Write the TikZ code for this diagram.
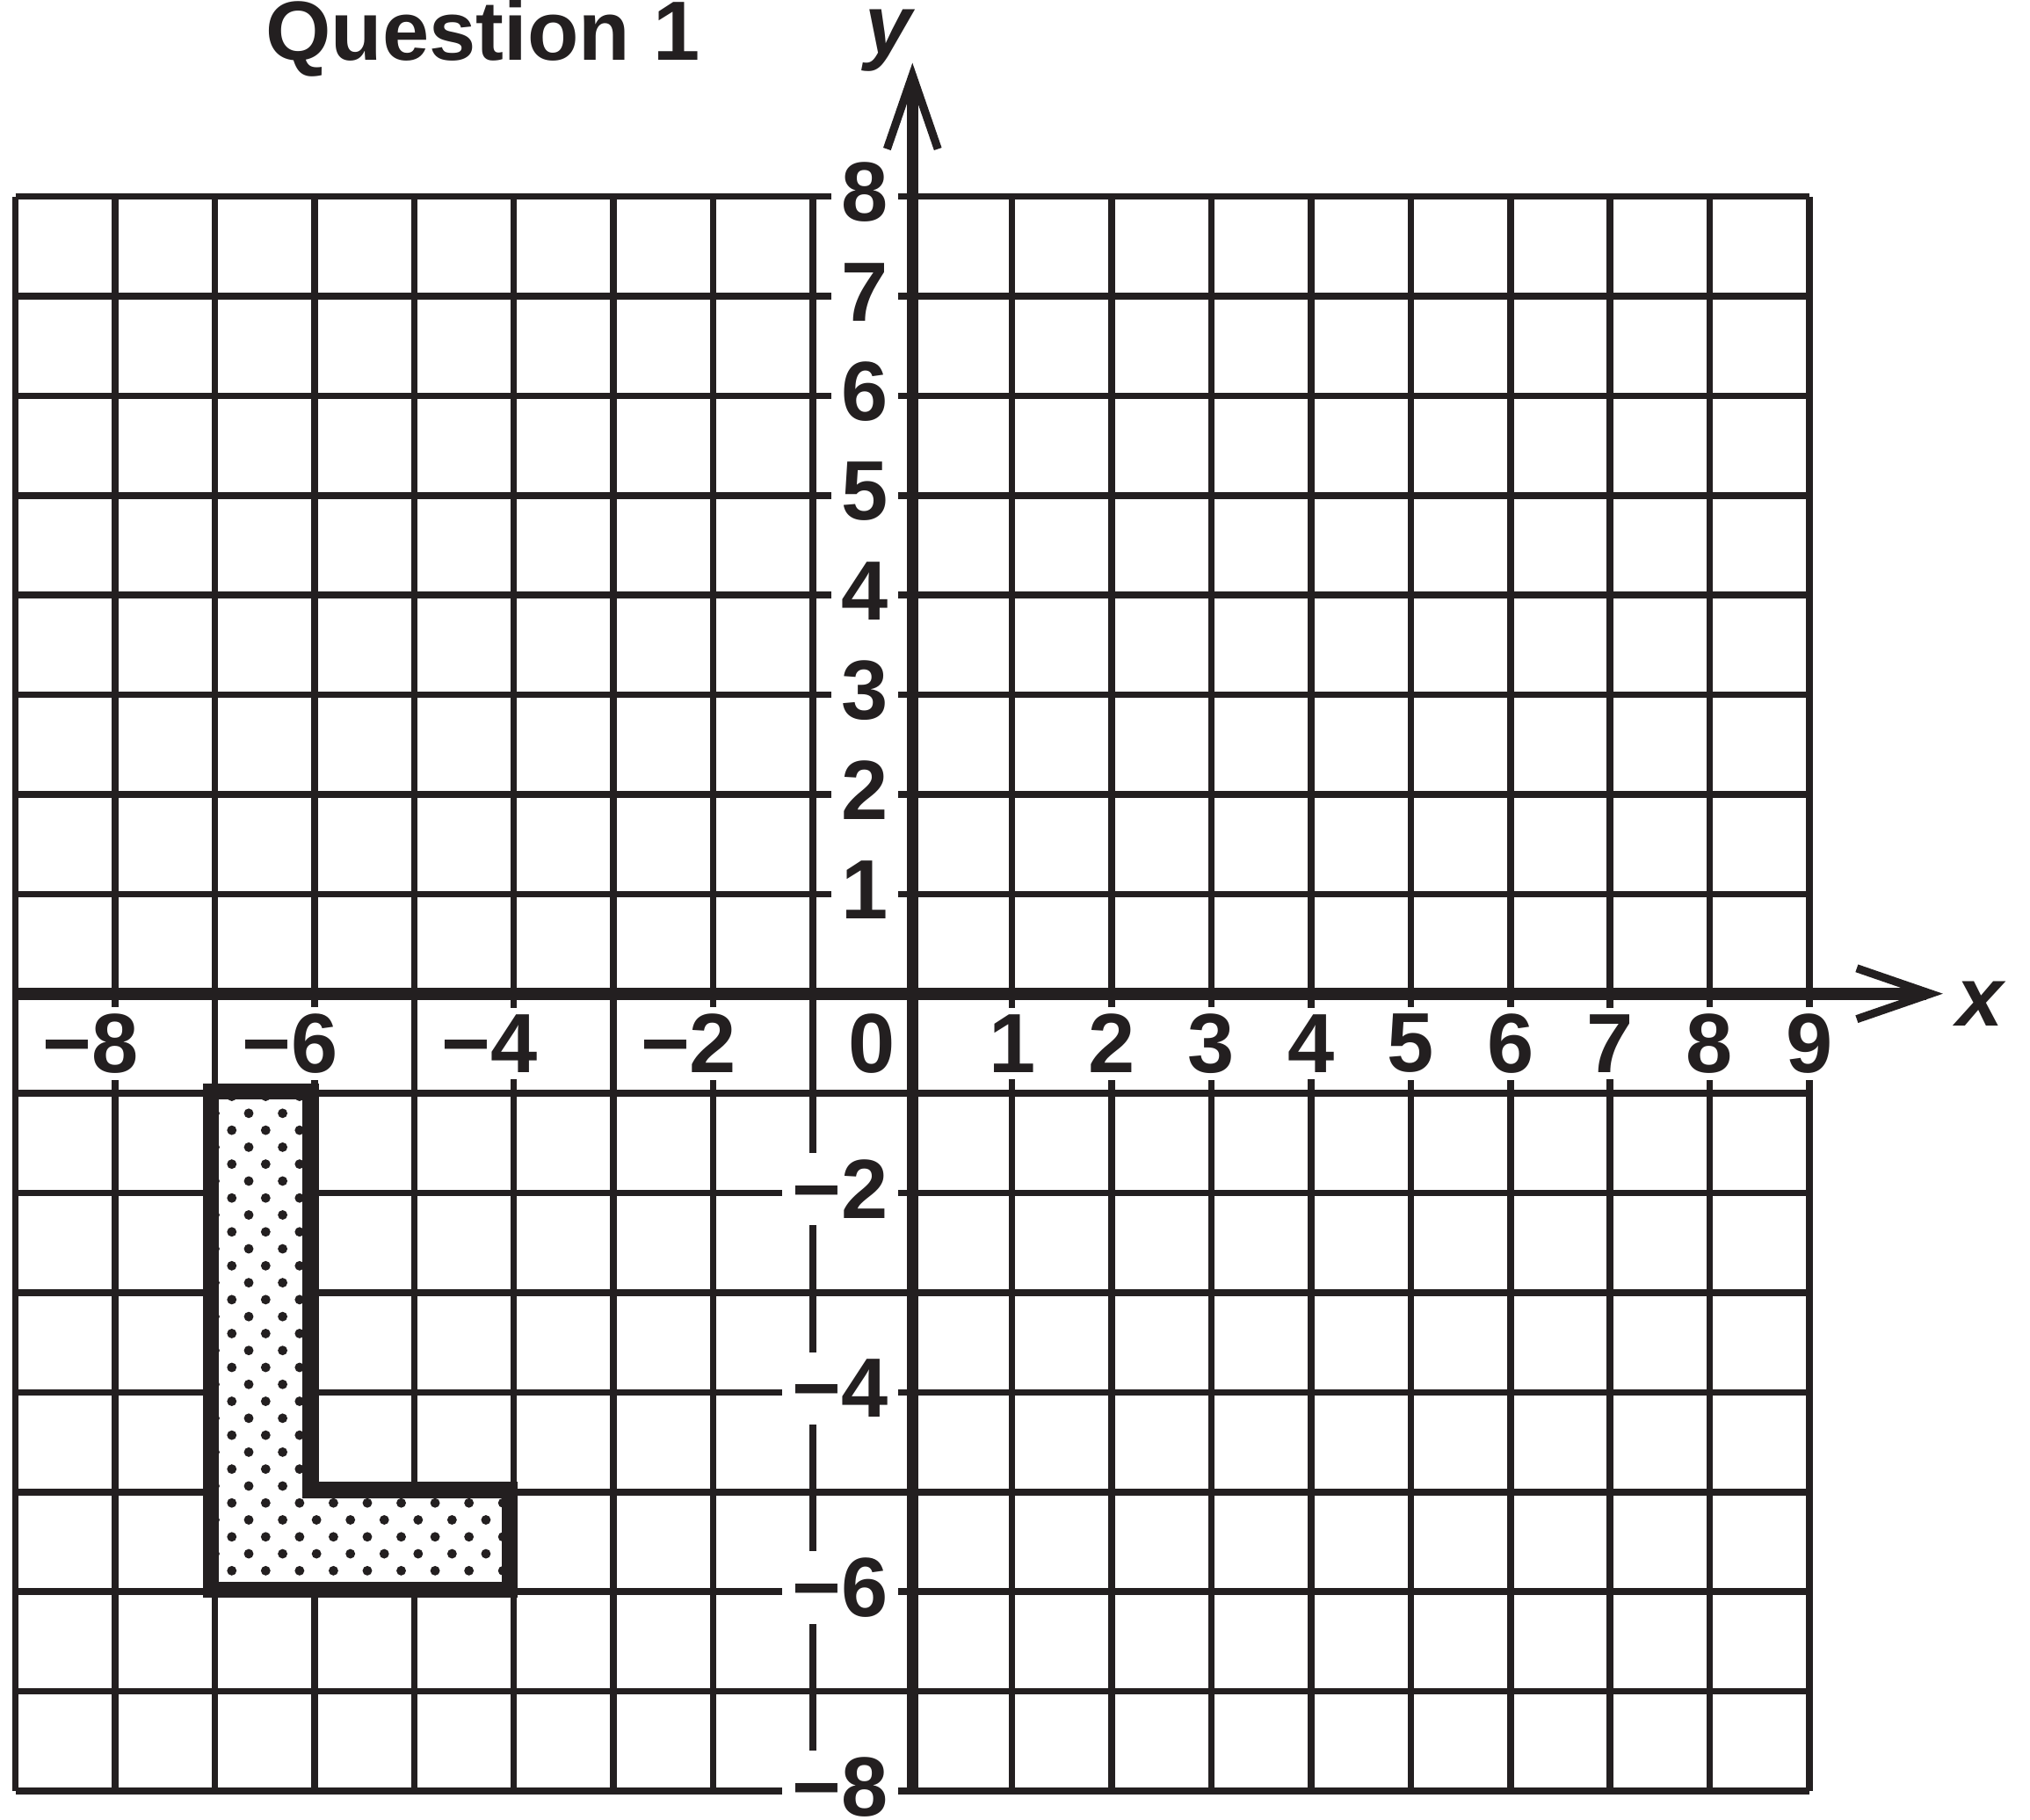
\documentclass[tikz,border=0pt]{standalone}
\usepackage{fontspec}
\setmainfont{Liberation Sans}
\usetikzlibrary{arrows.meta}
\definecolor{ink}{RGB}{35,31,32}
\tikzset{
  gridline/.style={ink, line width=1.9pt},
  axisline/.style={ink, line width=3.4pt, -{Straight Barb[length=7.4mm,width=5.1mm,line width=2.3pt,sharp]}},
  numlab/.style={fill=white, text=ink, inner xsep=0.1cm, inner ysep=0.07cm, font=\fontsize{24}{28}\selectfont\bfseries},
  axisname/.style={text=ink, inner sep=0pt, font=\fontsize{24}{28}\selectfont\bfseries\itshape},
  shapeline/.style={ink, line width=4.6pt, line join=miter},
}
\begin{document}
\begin{tikzpicture}
    \useasboundingbox (-9.156,-8.283) rectangle (11.214,9.971);
    % grid
    \draw[gridline] (-9,-8) grid (9,8);
    % numbers on the x axis
    \foreach \x in {1,...,9}
        \node at (\x,-0.5)[numlab] (xlab\x) {\x};
    \foreach \x in {2,4,6,8}
        \node at (-\x,-0.5)[numlab] (xlabm\x) {\llap{−}\x};
    \node at (-0.41,-0.5)[numlab] (xlab0) {0};
    % numbers on the y axis
    \foreach \y in {1,...,8}
        \node at (-0.14,\y+0.04)[numlab,anchor=east] (ylab\y) {\y};
    \foreach \y in {2,4,6,8}
        \node at (-0.14,-\y+0.04)[numlab,anchor=east] (ylabm\y) {−\y};
    % axes
    \coordinate (xstart) at (-9,0);
    \coordinate (xend) at (10.34,0);
    \coordinate (ystart) at (0,-8.02);
    \coordinate (yend) at (0,9.34);
    \draw[axisline] (xstart) -- (xend);
    \draw[axisline] (ystart) -- (yend);
    \node at (10.71,-0.1)[axisname] (xname) {x};
    \node at (-0.24,9.43)[axisname,anchor=base] (yname) {y};
    \node at (-4.31,9.37)[anchor=base,text=ink,inner sep=0pt,font=\fontsize{24}{28}\selectfont\bfseries] (title) {Question 1};
    % dotted L shape
    \begin{scope}[shift={(-0.04,0.02)}]
        \clip (-7,-1) -- (-6,-1) -- (-6,-5) -- (-4,-5) -- (-4,-6) -- (-7,-6) -- cycle;
        \fill[white] (-7,-6) rectangle (-4,-1);
        \foreach \b in {0,...,30} {
            \pgfmathsetmacro\off{mod(\b,2)*0.17}
            \foreach \a in {0,...,9}
                \fill[ink] (-6.96+\off+0.34*\a,-5.98+0.17*\b) circle (0.048);
        }
    \end{scope}
    \draw[shapeline,shift={(-0.04,0.02)}] (-7,-1) -- (-6,-1) -- (-6,-5) -- (-4,-5) -- (-4,-6) -- (-7,-6) -- cycle;
\end{tikzpicture}
\end{document}
